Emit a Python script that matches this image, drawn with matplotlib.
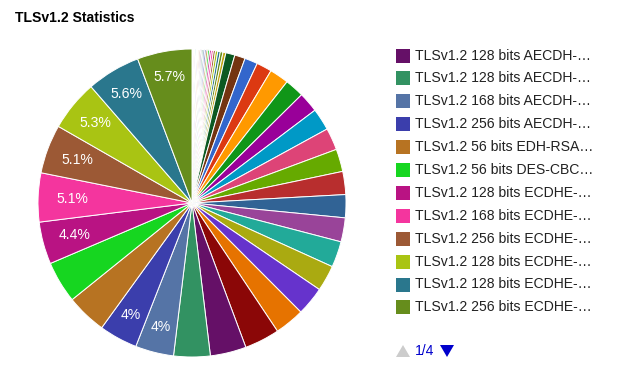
import matplotlib
matplotlib.use("Agg")
import matplotlib.pyplot as plt
from matplotlib.patches import Rectangle, Polygon

plt.rcParams['font.family'] = ['Liberation Sans', 'DejaVu Sans']

W, H, DPI = 633, 382, 100

# Slice values (percent), clockwise from 12 o'clock
values = [
    0.01, 0.01, 0.02, 0.02, 0.03, 0.03, 0.04, 0.05, 0.05, 0.06,
    0.07, 0.08, 0.09, 0.10, 0.11, 0.12, 0.13, 0.14, 0.15, 0.16,
    0.17, 0.18, 0.19, 0.20, 0.22, 0.24, 0.26, 0.28, 0.30,
    0.95, 1.1, 1.35, 1.6, 2.0, 2.0, 2.1, 2.3, 2.3, 2.35,
    2.4, 2.4, 2.5, 2.7, 2.7, 3.0, 3.1, 3.65, 3.75, 3.8,
    4.0, 4.0, 4.2, 4.35, 4.4, 5.1, 5.1, 5.3, 5.6, 5.7,
]

palette = [
    "#3366cc", "#dc3912", "#ff9900", "#109618", "#990099", "#0099c6",
    "#dd4477", "#66aa00", "#b82e2e", "#316395", "#994499", "#22aa99",
    "#aaaa11", "#6633cc", "#e67300", "#8b0707", "#651067", "#329262",
    "#5574a6", "#3b3eac", "#b77322", "#16d620", "#b91383", "#f4359e",
    "#9c5935", "#a9c413", "#2a778d", "#668d1c", "#bea413", "#0c5922",
    "#743411",
]

# slices that carry a percentage label
labeled = [49, 50, 53, 54, 55, 56, 57, 58]

# legend page 1/4
legend_labels = [
    "TLSv1.2 128 bits AECDH-\u2026",
    "TLSv1.2 128 bits AECDH-\u2026",
    "TLSv1.2 168 bits AECDH-\u2026",
    "TLSv1.2 256 bits AECDH-\u2026",
    "TLSv1.2 56 bits EDH-RSA\u2026",
    "TLSv1.2 56 bits DES-CBC\u2026",
    "TLSv1.2 128 bits ECDHE-\u2026",
    "TLSv1.2 168 bits ECDHE-\u2026",
    "TLSv1.2 256 bits ECDHE-\u2026",
    "TLSv1.2 128 bits ECDHE-\u2026",
    "TLSv1.2 128 bits ECDHE-\u2026",
    "TLSv1.2 256 bits ECDHE-\u2026",
]
legend_first = 47
page_text = "1/4"
title = "TLSv1.2 Statistics"

colors = [palette[i % len(palette)] for i in range(len(values))]

fig = plt.figure(figsize=(W / DPI, H / DPI), dpi=DPI)

def fx(x):
    return x / W

def fy(y):
    return 1 - y / H

# pie axes: center (192, 203) px, radius 154 px
cx, cy, R = 192, 203, 154
ax = fig.add_axes([fx(cx - R), fy(cy + R), 2 * R / W, 2 * R / H])
wedges, _ = ax.pie(values, colors=colors, startangle=90, counterclock=False,
                   radius=1.0,
                   wedgeprops=dict(edgecolor="white", linewidth=0.7))
ax.set_xlim(-1.0, 1.0)
ax.set_ylim(-1.0, 1.0)
ax.axis("off")

import math
total = sum(values)
for i in labeled:
    w = wedges[i]
    mid = math.radians((w.theta1 + w.theta2) / 2)
    r = 0.775 + 0.06 * abs(math.sin(mid))
    pct = values[i] / total * 100
    txt = f"{pct:.1f}".rstrip("0").rstrip(".") + "%"
    ax.text(r * math.cos(mid), r * math.sin(mid), txt, color="white",
            fontsize=10.1, ha="center", va="center")

# title
fig.text(fx(15), fy(18), title, fontsize=10.1, fontweight="bold",
         color="#000000", ha="left", va="center")

# legend
for k, lab in enumerate(legend_labels):
    yc = 55.5 + 22.9 * k
    fig.add_artist(Rectangle((fx(396), fy(yc + 7)), 14 / W, 14 / H,
                             facecolor=colors[legend_first + k],
                             edgecolor="none", transform=fig.transFigure))
    fig.text(fx(415), fy(yc), lab, fontsize=10.1, color="#222222",
             ha="left", va="center")

# paging controls
fig.add_artist(Polygon([(fx(396), fy(357)), (fx(410), fy(357)), (fx(403), fy(345))],
                       closed=True, facecolor="#cccccc", edgecolor="none",
                       transform=fig.transFigure))
fig.text(fx(415), fy(351), page_text, fontsize=10.1, color="#0000cc",
         ha="left", va="center")
fig.add_artist(Polygon([(fx(440), fy(345)), (fx(454), fy(345)), (fx(447), fy(357))],
                       closed=True, facecolor="#0000cc", edgecolor="none",
                       transform=fig.transFigure))

fig.savefig("out.png", dpi=DPI, facecolor="white")
